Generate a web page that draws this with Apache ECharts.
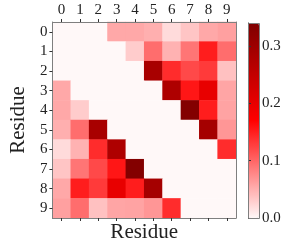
<!DOCTYPE html>
<html><head><meta charset="utf-8">
<script src="https://cdn.jsdelivr.net/npm/echarts@6/dist/echarts.min.js"></script>
<style>html,body{margin:0;padding:0;background:#fff}#c{width:286px;height:248px}</style>
</head><body><div id="c"></div>
<script>
const xLabels = ['0','1','2','3','4','5','6','7','8','9'];
const yLabels = ['0','1','2','3','4','5','6','7','8','9'];
const row0 = [0,     0,     0,     0.055, 0.055, 0.050, 0.020, 0.035, 0.055, 0.060];
const row1 = [0,     0,     0,     0,     0.030, 0.095, 0.048, 0.090, 0.150, 0.095];
const row2 = [0,     0,     0,     0,     0,     0.285, 0.140, 0.120, 0.130, 0.038];
const row3 = [0.055, 0,     0,     0,     0,     0,     0.278, 0.155, 0.200, 0.057];
const row4 = [0.055, 0.030, 0,     0,     0,     0,     0,     0.335, 0.150, 0.058];
const row5 = [0.050, 0.095, 0.285, 0,     0,     0,     0,     0,     0.290, 0.067];
const row6 = [0.020, 0.048, 0.140, 0.278, 0,     0,     0,     0,     0,     0.140];
const row7 = [0.035, 0.090, 0.120, 0.155, 0.335, 0,     0,     0,     0,     0    ];
const row8 = [0.055, 0.150, 0.130, 0.200, 0.150, 0.290, 0,     0,     0,     0    ];
const row9 = [0.060, 0.095, 0.038, 0.057, 0.058, 0.067, 0.140, 0,     0,     0    ];
const rows = [row0,row1,row2,row3,row4,row5,row6,row7,row8,row9];
const cbMin = 0, cbMax = 0.34;
const cbTicks = [0, 0.1, 0.2, 0.3];

const data = [];
rows.forEach((r, i) => r.forEach((v, j) => data.push([j, i, v])));

const FONT = 'Liberation Serif';
const GRAY = '#7f7f7f';
const chart = echarts.init(document.getElementById('c'), null, {renderer: 'canvas'});
const catAxisCommon = {
  type: 'category', gridIndex: 0, z: 10,
  axisLine: {show: true, lineStyle: {color: GRAY, width: 1}},
  axisTick: {show: true, alignWithLabel: true, length: 3, lineStyle: {color: '#333'}},
  splitLine: {show: false}
};
chart.setOption({
  animation: false,
  grid: [
    {left: 38, top: 22, width: 198, height: 197},
    {left: 248, top: 23, width: 11, height: 195}
  ],
  xAxis: [
    Object.assign({}, catAxisCommon, {data: xLabels, position: 'top',
      axisLabel: {fontFamily: FONT, fontSize: 15, color: '#222', margin: 4}}),
    Object.assign({}, catAxisCommon, {data: xLabels, position: 'bottom',
      axisLabel: {show: false},
      name: 'Residue', nameLocation: 'middle', nameGap: 4,
      nameTextStyle: {fontFamily: FONT, fontSize: 21, color: '#222', verticalAlign: 'top'}}),
    {type: 'value', gridIndex: 1, show: false, min: 0, max: 1}
  ],
  yAxis: [
    Object.assign({}, catAxisCommon, {data: yLabels, inverse: true, position: 'left',
      axisLabel: {fontFamily: FONT, fontSize: 15, color: '#222', margin: 5},
      name: 'Residue', nameLocation: 'middle', nameGap: 20, nameRotate: 90,
      nameTextStyle: {fontFamily: FONT, fontSize: 21, color: '#222'}}),
    Object.assign({}, catAxisCommon, {data: yLabels, inverse: true, position: 'right',
      axisLabel: {show: false}, axisTick: {show: false}}),
    {type: 'value', gridIndex: 1, position: 'right', min: cbMin, max: cbMax, interval: 0.1, z: 10,
      axisLine: {show: true, lineStyle: {color: GRAY}},
      axisTick: {show: true, length: 3, lineStyle: {color: '#333'}},
      axisLabel: {fontFamily: FONT, fontSize: 15, color: '#222', margin: 3,
        formatter: v => (cbTicks.some(t => Math.abs(t - v) < 1e-9) ? v.toFixed(1) : '')},
      splitLine: {show: false}},
    {type: 'value', gridIndex: 1, position: 'left', min: cbMin, max: cbMax, z: 10,
      axisLine: {show: true, lineStyle: {color: GRAY}},
      axisTick: {show: false}, axisLabel: {show: false}, splitLine: {show: false}}
  ],
  visualMap: {
    type: 'continuous', min: cbMin, max: cbMax, seriesIndex: 0,
    left: 248, top: 23, itemWidth: 11, itemHeight: 195, padding: 0,
    calculable: false, text: null, orient: 'vertical',
    inRange: {color: ['#fff8f8', '#ff0000', '#7f0000']}
  },
  series: [{
    type: 'heatmap', xAxisIndex: 0, yAxisIndex: 0, data: data,
    itemStyle: {borderWidth: 0}, emphasis: {disabled: true}
  }],
  graphic: [{
    type: 'rect', z: 20, silent: true,
    shape: {x: 248.5, y: 23.5, width: 11, height: 195},
    style: {fill: 'none', stroke: GRAY, lineWidth: 1}
  }]
});
</script></body></html>
